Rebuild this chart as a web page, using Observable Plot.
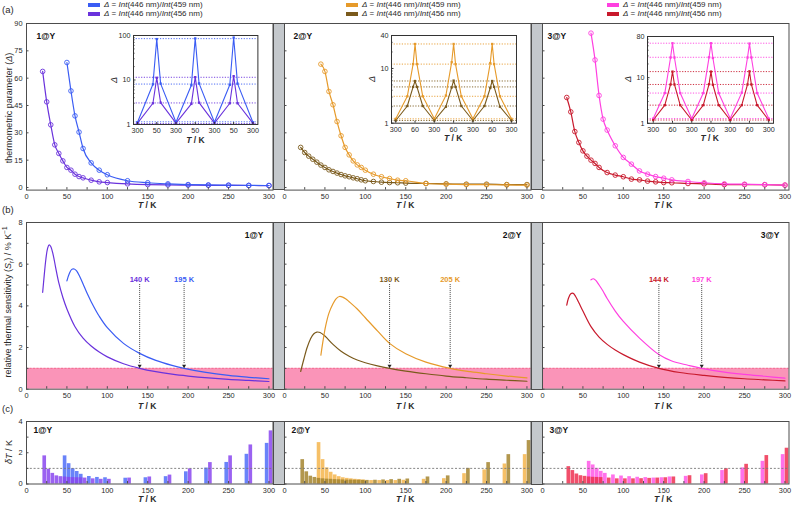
<!DOCTYPE html>
<html><head><meta charset="utf-8">
<script src="https://cdn.jsdelivr.net/npm/d3@7"></script>
<script src="https://cdn.jsdelivr.net/npm/@observablehq/plot@0.6"></script>
<style>
body{margin:0;background:#fff}
#root{position:relative;width:793px;height:506px;overflow:hidden;background:#fff;font-family:"Liberation Sans",Arial,sans-serif;color:#2a2a2a}
.lbl{position:absolute;white-space:nowrap;line-height:1}
</style></head><body><div id="root"></div>
<script>
// ---------------- DATA ----------------
const compounds = ["1@Y", "2@Y", "3@Y"];
const refWavelength = "446";
const wavelengths = ["459", "456"];

// (a) thermometric parameter Δ vs T
const a1T459 = [50,55,60,65,70,80,90,100,125,150,175,200,225,250,275,300];
const a1D459 = [68.6,53,39.3,30.4,21.4,13.5,9.5,7.0,3.7,2.6,2.0,1.6,1.4,1.3,1.15,1.1];
const a1T456 = [20,25,30,35,40,45,50,55,60,65,70,80,90,100,125,150,175,200,225,250,275,300];
const a1D456 = [63.7,47,34.4,23.4,18.7,14.6,11,9.5,7.3,6.0,5.3,4.0,3.1,2.7,2.0,1.6,1.4,1.3,1.2,1.15,1.1,1.05];
const a2T459 = [45,50,55,60,65,70,75,80,85,90,95,100,110,120,130,140,150,175,200,225,250,275,300];
const a2D459 = [67.7,63.7,52.7,45.4,36.2,28.4,22,17.9,14.6,12.4,11,9.5,7.3,5.9,4.9,4.0,3.7,2.2,1.8,1.6,1.5,1.4,1.3];
const a2T456 = [20,25,30,35,40,45,50,55,60,65,70,75,80,85,90,95,100,110,120,130,140,150,175,200,225,250,275,300];
const a2D456 = [22,19.2,17.2,15.5,13.9,12.3,11,9.7,8.8,7.9,7.1,6.4,5.9,5.3,4.8,4.2,3.7,3.3,2.9,2.7,2.6,2.4,2.2,2.0,1.8,1.8,1.6,1.6];
const a3T459 = [60,65,70,75,80,90,100,110,120,130,140,150,160,180,200,225,250,275,300];
const a3D459 = [84.7,70,50.5,37.5,31.5,22.9,16.5,12.8,9.1,7.3,6.0,5.1,4.2,3.3,2.6,2.0,1.8,1.6,1.3];
const a3T456 = [30,35,40,45,50,55,60,65,70,80,90,100,110,120,130,140,150,160,180,200,225,250,275,300];
const a3D456 = [49.4,41.5,30.7,24.7,20.1,17.2,15,13.2,11,8.2,6.8,5.9,4.6,4.2,3.5,3.1,2.7,2.6,2.2,2.0,1.6,1.6,1.5,1.3];

// insets: cycling 300 K <-> low T (position along cycle)
const insetPos1 = [0,0.8,1,1.2,2,2.8,3,3.2,4,4.8,5,5.2,6];
const inset1D459 = [1.12,8.0,83,8.3,1.12,7.6,86,8.4,1.12,7.8,90,8.3,1.12];
const inset1D456 = [1.07,3.0,11.2,3.1,1.07,2.9,11.6,3.1,1.07,3.0,12.2,3.0,1.07];
const inset1Lvl459 = [85,8.1,1.15];
const inset1Lvl456 = [11.5,3.05,1.05];
const insetPos23 = [0,0.6,0.9,1,1.1,1.4,2,2.6,2.9,3,3.1,3.4,4,4.6,4.9,5,5.1,5.4,6];
const inset2D459 = [1.2,3.1,12,28,12,3.1,1.2,3.2,13,28,12,3.1,1.2,3.1,12.5,28,12,3.1,1.2];
const inset2D456 = [1.12,2.06,4.6,5.9,4.6,2.06,1.12,2.0,4.5,6.0,4.6,2.06,1.12,2.06,4.4,5.9,4.6,2.0,1.12];
const inset2Lvl459 = [28,12,3.1,1.2];
const inset2Lvl456 = [5.9,4.6,2.06,1.12];
const inset3D459 = [1.27,4.6,27.7,57,27.7,4.6,1.27,4.6,28,57,27,4.6,1.27,4.7,27.7,56,27.7,4.6,1.27];
const inset3D456 = [1.18,2.5,7.1,13.6,7.1,2.5,1.18,2.5,7.2,13.6,7.0,2.5,1.18,2.5,7.1,13.8,7.1,2.5,1.18];
const inset3Lvl459 = [57,28,4.6,1.27];
const inset3Lvl456 = [13.6,7.1,2.5,1.18];
const insetLabels1 = ["300","50","300","50","300","50","300"];
const insetLabels23 = ["300","60","300","60","300","60","300"];

// (b) relative thermal sensitivity Sr (% K-1)
const b1T459 = [50,53,56,59,62,66,70,75,80,90,100,120,140,160,180,195,220,250,275,300];
const b1S459 = [5.2,5.55,5.75,5.77,5.68,5.4,5.05,4.6,4.2,3.5,2.95,2.2,1.72,1.38,1.14,1.0,0.82,0.66,0.57,0.5];
const b1T456 = [20,22,24,26,28,30,33,36,40,45,50,60,70,80,90,100,120,140,160,180,200,225,250,275,300];
const b1S456 = [4.65,5.5,6.25,6.75,6.93,6.85,6.45,5.85,5.1,4.4,3.85,3.0,2.45,2.07,1.78,1.55,1.22,1.0,0.84,0.72,0.63,0.54,0.47,0.42,0.37];
const b2T459 = [45,48,51,55,60,64,68,72,76,80,90,100,115,130,150,175,205,230,250,275,300];
const b2S459 = [1.63,2.4,3.05,3.65,4.1,4.35,4.45,4.42,4.33,4.2,3.85,3.43,2.8,2.2,1.7,1.3,1.0,0.84,0.74,0.63,0.54];
const b2T456 = [20,24,28,32,36,40,44,50,60,70,80,90,100,115,130,150,175,200,225,250,275,300];
const b2S456 = [0.85,1.45,2.0,2.4,2.65,2.74,2.72,2.55,2.15,1.82,1.58,1.4,1.27,1.12,1.0,0.87,0.74,0.63,0.55,0.48,0.43,0.38];
const b3T459 = [60,63,66,70,75,80,90,100,120,144,160,180,197,225,250,275,300];
const b3S459 = [5.25,5.3,5.22,5.0,4.7,4.35,3.75,3.25,2.45,1.66,1.35,1.15,1.0,0.82,0.71,0.62,0.53];
const b3T456 = [30,32,35,38,41,45,50,60,70,80,90,100,120,144,170,200,225,250,275,300];
const b3S456 = [4.03,4.35,4.58,4.6,4.45,4.15,3.75,3.0,2.5,2.15,1.88,1.66,1.3,1.0,0.8,0.66,0.57,0.5,0.45,0.4];
const srLimit = [1];
// temperatures where Sr reaches 1 % K-1: [456 series, 459 series]
const srCross = [[140,195],[130,205],[144,197]];

// (c) temperature uncertainty δT (K)
const c1T459 = [50,55,60,65,70,80,90,100,125,150,175,200,225,250,275,300];
const c1V459 = [1.8,1.3,0.98,0.8,0.62,0.48,0.42,0.4,0.37,0.4,0.47,0.78,1.02,1.38,1.9,2.6];
const c1T456 = [20,25,30,35,40,45,50,55,60,65,70,80,90,100,125,150,175,200,225,250,275,300];
const c1V456 = [1.8,0.95,0.68,0.52,0.47,0.45,0.42,0.41,0.4,0.4,0.38,0.33,0.3,0.3,0.38,0.45,0.57,0.97,1.37,1.8,2.5,3.4];
const c2T459 = a2T459;
const c2V459 = [2.65,1.56,1.03,0.75,0.58,0.47,0.4,0.36,0.33,0.3,0.28,0.26,0.22,0.22,0.22,0.22,0.24,0.3,0.34,0.66,0.9,1.28,1.88];
const c2T456 = a2T456;
const c2V456 = [1.56,0.78,0.5,0.42,0.36,0.33,0.31,0.3,0.28,0.27,0.26,0.25,0.25,0.24,0.24,0.23,0.23,0.24,0.26,0.28,0.3,0.32,0.45,0.52,1.0,1.37,1.88,2.78];
const c3T459 = a3T459;
const c3V459 = [1.45,1.22,1.0,0.81,0.68,0.58,0.51,0.47,0.43,0.41,0.38,0.4,0.45,0.49,0.58,0.86,1.03,1.45,1.88];
const c3T456 = a3T456;
const c3V456 = [1.11,0.86,0.64,0.53,0.49,0.45,0.43,0.42,0.41,0.38,0.33,0.33,0.33,0.34,0.36,0.38,0.4,0.45,0.53,0.66,0.98,1.26,1.82,2.29];
const dTLimit = [1];

// ticks
const xTicksMajor = [0,50,100,150,200,250,300];
const xTicksMinor = [0,25,50,75,100,125,150,175,200,225,250,275,300];
const aYTicks = [0,15,30,45,60,75,90];
const bYTicks = [0,1,2,3,4,5,6,7,8], bYLabels = [0,2,4,6,8];
const cYTicks = [0,1,2,3,4], cYLabels = [0,2,4];

// ---------------- STYLE / LAYOUT ----------------
const lineColors = [["#3a5cf4","#6a32dc"],["#e69a2a","#7a5a1c"],["#ff3fe0","#c8192c"]];
const barColors  = [["#4f6df8","#8a46ee"],["#f4b54c","#a5852f"],["#ff58e8","#ef3050"]];
const FONT = '"Liberation Sans", Arial, sans-serif';
const INK = "#2a2a2a", FRAME = "#4d4d4d";
const colX = [[26,272.5],[284,530.5],[542,788.5]];
const xDomain = [0,305];
const rowA = {top:22.7, bottom:189.3, ydom:[-1.43,90], yticks:aYTicks, ylabels:aYTicks, xdy:6.5};
const rowB = {top:222.3, bottom:389, ydom:[0,8], yticks:bYTicks, ylabels:bYLabels, xdy:6.5};
const rowC = {top:421, bottom:483.5, ydom:[0,4], yticks:cYTicks, ylabels:cYLabels, xdy:6.3};

const root = document.getElementById("root");
const zip = (T, V) => T.map((t, i) => ({T: t, v: V[i]}));
function addSvg(svg, left, top) {
  svg.style.position = "absolute"; svg.style.left = left + "px"; svg.style.top = top + "px";
  root.appendChild(svg);
}
function label(html, x, y, o = {}) {
  const d = document.createElement("div");
  d.className = "lbl"; d.innerHTML = html;
  const tr = o.anchor === "start" ? "translate(0,-50%)" : "translate(-50%,-50%)";
  Object.assign(d.style, {left: x + "px", top: y + "px", fontSize: (o.size || 8) + "px",
    fontWeight: o.bold ? "bold" : "normal", color: o.color || INK,
    transform: tr + (o.rotate ? " rotate(-90deg)" : "")});
  root.appendChild(d);
}

function panel(ix, row, marks) {
  const [L, R] = colX[ix];
  const W = R - L, H = row.bottom - row.top;
  const mL = 30, mR = 8, mT = 8, mB = 22;
  const svg = Plot.plot({
    width: W + mL + mR, height: H + mT + mB,
    marginLeft: mL, marginRight: mR, marginTop: mT, marginBottom: mB,
    x: {domain: xDomain, axis: null, label: null},
    y: {domain: row.ydom, axis: null, label: null},
    style: {fontFamily: FONT, fontSize: "7.4px", color: INK, background: "transparent", overflow: "visible"},
    marks: [
      ...marks,
      Plot.frame({stroke: FRAME}),
      Plot.tickX(xTicksMinor, {x: d => d, insetTop: H - 2.5, stroke: FRAME}),
      Plot.tickY(row.yticks, {y: d => d, insetRight: W - 2.5, stroke: FRAME}),
      Plot.text(xTicksMajor, {x: d => d, text: d => String(d), frameAnchor: "bottom", dy: row.xdy, lineAnchor: "middle", fill: INK}),
      ix === 0 ? Plot.text(row.ylabels, {y: d => d, text: d => String(d), frameAnchor: "left", dx: -4, textAnchor: "end", lineAnchor: "middle", fill: INK}) : null
    ].filter(Boolean)
  });
  addSvg(svg, L - mL, row.top - mT);
}

const aData = [[a1T459,a1D459,a1T456,a1D456],[a2T459,a2D459,a2T456,a2D456],[a3T459,a3D459,a3T456,a3D456]];
const bData = [[b1T459,b1S459,b1T456,b1S456],[b2T459,b2S459,b2T456,b2S456],[b3T459,b3S459,b3T456,b3S456]];
const cData = [[c1T459,c1V459,c1T456,c1V456],[c2T459,c2V459,c2T456,c2V456],[c3T459,c3V459,c3T456,c3V456]];
const aLabelDx = [10, 9, 5];

compounds.forEach((name, ix) => {
  const [c459, c456] = lineColors[ix];
  const [b459, b456] = barColors[ix];
  // row (a)
  const [t1, d1, t2, d2] = aData[ix];
  panel(ix, rowA, [
    Plot.line(zip(t2, d2), {x: "T", y: "v", stroke: c456, strokeWidth: 1.2, curve: "monotone-x"}),
    Plot.dot(zip(t2, d2), {x: "T", y: "v", r: 2.3, stroke: c456, strokeWidth: 0.9, fill: "none"}),
    Plot.line(zip(t1, d1), {x: "T", y: "v", stroke: c459, strokeWidth: 1.2, curve: "monotone-x"}),
    Plot.dot(zip(t1, d1), {x: "T", y: "v", r: 2.3, stroke: c459, strokeWidth: 0.9, fill: "none"}),
    Plot.text([name], {text: d => d, frameAnchor: "top-left", dx: aLabelDx[ix], dy: 12.3, lineAnchor: "middle", textAnchor: "start", fontWeight: "bold", fontSize: 8.5, fill: "#111"})
  ]);
  // row (b)
  const [s1, v1, s2, v2] = bData[ix];
  const [x456, x459] = srCross[ix];
  const cross = [{T: x456, c: c456}, {T: x459, c: c459}];
  panel(ix, rowB, [
    Plot.rectY(srLimit, {y: d => d, fill: "#fa94b8"}),
    Plot.ruleY(srLimit, {y: d => d, stroke: "#f26d92", strokeDasharray: "2,1.5", strokeWidth: 1}),
    Plot.line(zip(s2, v2), {x: "T", y: "v", stroke: c456, strokeWidth: 1.2, curve: "catmull-rom"}),
    Plot.line(zip(s1, v1), {x: "T", y: "v", stroke: c459, strokeWidth: 1.2, curve: "catmull-rom"}),
    Plot.ruleX(cross, {x: "T", y1: 5.02, y2: 1.18, stroke: "#333", strokeDasharray: "1,1", strokeWidth: 0.9}),
    Plot.dot(cross, {x: "T", y: 1.12, symbol: "triangle2", rotate: 180, r: 1.9, fill: "#222", stroke: "none"}),
    Plot.text(cross, {x: "T", y: 5.28, text: d => d.T + " K", fill: d => d.c, fontWeight: "bold", fontSize: 7.5}),
    Plot.text([name], {text: d => d, frameAnchor: "top-right", dx: -9.5, dy: 12.7, lineAnchor: "middle", textAnchor: "end", fontWeight: "bold", fontSize: 8.5, fill: "#111"})
  ]);
  // row (c)
  const [u1, w1, u2, w2] = cData[ix];
  panel(ix, rowC, [
    Plot.rectY(zip(u1, w1), {x1: d => d.T - 4.5, x2: d => d.T, y: "v", fill: b459, fillOpacity: 0.85}),
    Plot.rectY(zip(u2, w2), {x1: d => d.T + 0.3, x2: d => d.T + 4.8, y: "v", fill: b456, fillOpacity: 0.85}),
    Plot.ruleY(dTLimit, {y: d => d, stroke: "#777", strokeDasharray: "2,1.8", strokeWidth: 0.9}),
    Plot.text([name], {text: d => d, frameAnchor: "top-left", dx: 7, dy: 9, lineAnchor: "middle", textAnchor: "start", fontWeight: "bold", fontSize: 8.5, fill: "#111"})
  ]);
});

// gray separators
[rowA, rowB, rowC].forEach(row => {
  [[colX[0][1], colX[1][0]], [colX[1][1], colX[2][0]]].forEach(([l, r]) => {
    const d = document.createElement("div");
    Object.assign(d.style, {position: "absolute", left: l + "px", top: row.top + "px", width: (r - l + 1) + "px",
      height: (row.bottom - row.top + 1) + "px", background: "#c4c8cc", border: "1px solid " + FRAME, boxSizing: "border-box"});
    root.appendChild(d);
  });
});

// insets
function inset(g, ydom, yticks, labels, pos, series) {
  const W = g.R - g.L, H = g.bottom - g.top;
  const mL = 24, mR = 6, mT = 6, mB = 20;
  const minor = d3.range(2, 10).flatMap(k => [k, k * 10]).filter(v => v > ydom[0] && v < ydom[1] && !yticks.includes(v));
  const idx = d3.range(labels.length);
  const svg = Plot.plot({
    width: W + mL + mR, height: H + mT + mB,
    marginLeft: mL, marginRight: mR, marginTop: mT, marginBottom: mB,
    x: {domain: g.xdom, axis: null, label: null},
    y: {type: "log", domain: ydom, axis: null, label: null},
    style: {fontFamily: FONT, fontSize: "7.2px", color: INK, background: "transparent", overflow: "visible"},
    marks: [
      Plot.frame({fill: "white"}),
      ...series.map(s => Plot.ruleY(s.lvl, {y: d => d, stroke: s.color, strokeDasharray: "1.2,1.5", strokeWidth: 0.9})),
      ...series.map(s => Plot.line(zip(pos, s.vals), {x: "T", y: "v", stroke: s.color, strokeWidth: 1.1})),
      ...series.map(s => Plot.dot(zip(pos, s.vals), {x: "T", y: "v", symbol: "square", r: 1.3, fill: s.color, stroke: "none"})),
      Plot.frame({stroke: "#333"}),
      Plot.tickY(yticks, {y: d => d, insetRight: W - 2.5, stroke: "#333"}),
      Plot.tickY(minor, {y: d => d, insetRight: W - 1.5, stroke: "#333"}),
      Plot.tickX(idx, {x: d => d, insetTop: H - 2, stroke: "#333"}),
      Plot.text(idx, {x: d => d, text: i => labels[i], frameAnchor: "bottom", dy: 6, lineAnchor: "middle", fill: INK}),
      Plot.text(yticks, {y: d => d, text: d => String(d), frameAnchor: "left", dx: -3, textAnchor: "end", lineAnchor: "middle", fill: INK})
    ]
  });
  addSvg(svg, g.L - mL, g.top - mT);
  label("<i>T</i> / K", (g.L + g.R) / 2, g.bottom + 15.5, {size: 8.5, bold: true});
  label("<i>Δ</i>", g.L - 19, (g.top + g.bottom) / 2, {size: 9, rotate: true});
}
const c = lineColors;
inset({L:133.3, R:257.7, top:35, bottom:124, xdom:[-0.21,6.26]}, [1,100], [1,10,100], insetLabels1, insetPos1,
  [{vals: inset1D459, lvl: inset1Lvl459, color: c[0][0]}, {vals: inset1D456, lvl: inset1Lvl456, color: c[0][1]}]);
inset({L:390.7, R:515.7, top:35, bottom:122.7, xdom:[-0.22,6.26]}, [1,40], [1,10,40], insetLabels23, insetPos23,
  [{vals: inset2D459, lvl: inset2Lvl459, color: c[1][0]}, {vals: inset2D456, lvl: inset2Lvl456, color: c[1][1]}]);
inset({L:646.7, R:772.7, top:35.5, bottom:122.3, xdom:[-0.3,6.25]}, [1,80], [1,10,80], insetLabels23, insetPos23,
  [{vals: inset3D459, lvl: inset3Lvl459, color: c[2][0]}, {vals: inset3D456, lvl: inset3Lvl456, color: c[2][1]}]);

// axis titles
[[rowA, 205], [rowB, 405.5], [rowC, 499.3]].forEach(([row, y]) => {
  colX.forEach(([L, R]) => label("<i>T</i> / K", L + (R - L) * 150 / 305, y, {size: 8.5, bold: true}));
});
label("thermometric parameter (<i>Δ</i>)", 8.5, 108, {size: 9, rotate: true});
label("relative thermal sensitivity (<i>S</i><sub style='font-size:70%'>r</sub>) / % K<sup style='font-size:70%'>−1</sup>", 8.5, 302, {size: 9, rotate: true});
label("<i>δT</i> / K", 9, 452, {size: 9, rotate: true});
label("(a)", 2, 10, {size: 9.5, anchor: "start"});
label("(b)", 2, 210, {size: 9.5, anchor: "start"});
label("(c)", 2, 409, {size: 9.5, anchor: "start"});

// legends
const legendX = [88, 346, 607];
legendX.forEach((x, ix) => {
  wavelengths.forEach((nm, k) => {
    const y = 5 + k * 9;
    const s = document.createElement("div");
    Object.assign(s.style, {position: "absolute", left: x + "px", top: (y - 2.3) + "px", width: "12px", height: "4.6px", background: lineColors[ix][k]});
    root.appendChild(s);
    label(`<i>Δ</i> = <i>Int</i>(${refWavelength} nm)/<i>Int</i>(${nm} nm)`, x + 16, y, {size: 8, anchor: "start"});
  });
});
</script></body></html>
